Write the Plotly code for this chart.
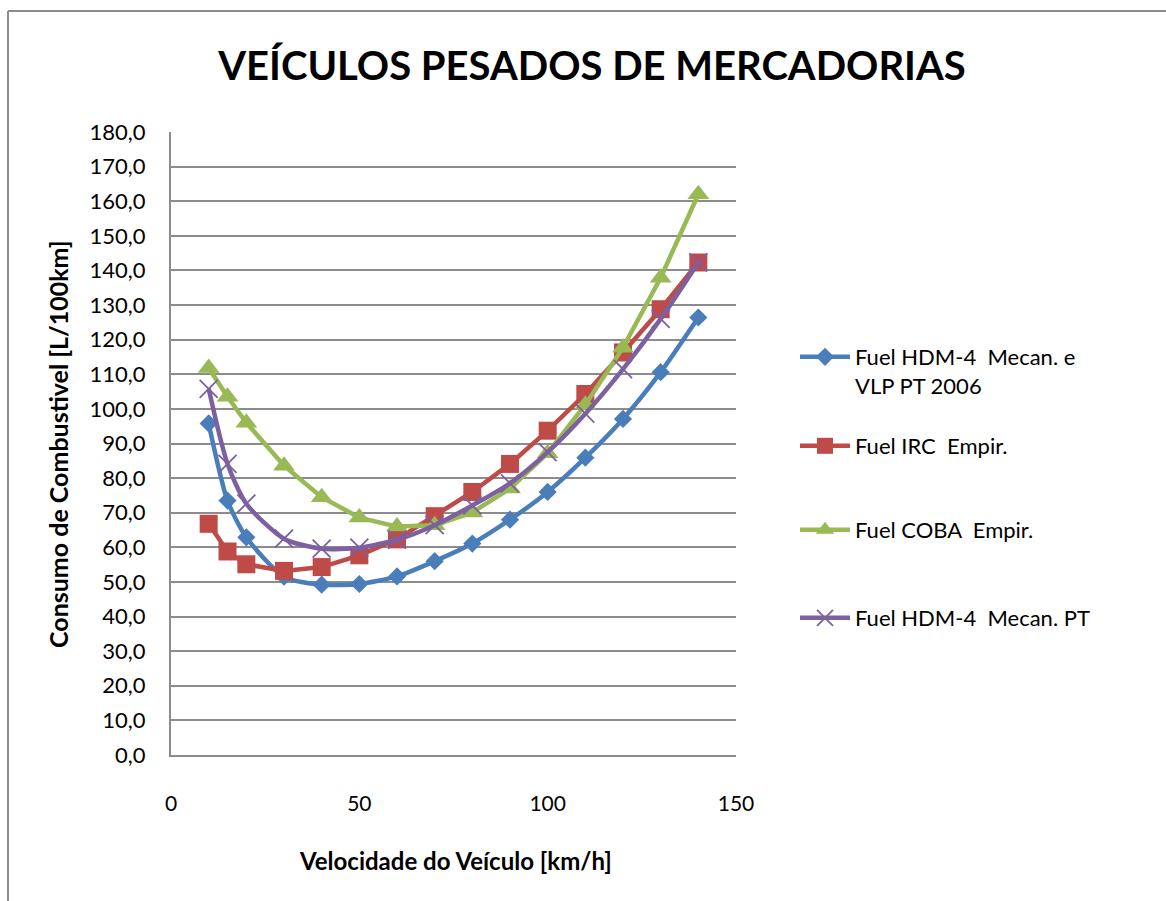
import plotly.graph_objects as go

# Vehicle speed (km/h)
speed = [10, 15, 20, 30, 40, 50, 60, 70, 80, 90, 100, 110, 120, 130, 140]

# Fuel consumption (L/100km) per model
hdm4_vlp = [95.8, 73.5, 62.9, 51.5, 49.2, 49.4, 51.6, 56.0, 61.1, 68.0, 76.0, 85.9, 97.1, 110.6, 126.4]
irc_empir = [66.8, 58.8, 55.1, 53.2, 54.3, 57.7, 62.3, 69.0, 76.0, 84.1, 93.7, 104.3, 116.3, 128.8, 142.3]
coba_empir = [111.8, 103.5, 96.0, 83.6, 74.5, 68.6, 66.0, 66.4, 70.1, 77.0, 87.2, 101.2, 117.7, 137.9, 162.0]
hdm4_pt = [105.8, 84.1, 72.6, 62.5, 59.6, 59.9, 62.2, 66.4, 72.1, 78.5, 87.5, 98.6, 111.5, 126.0, 142.3]

series_names = [
    "Fuel HDM-4  Mecan. e<br>VLP PT 2006",
    "Fuel IRC  Empir.",
    "Fuel COBA  Empir.",
    "Fuel HDM-4  Mecan. PT",
]

y_ticks = list(range(0, 181, 10))
x_ticks = [0, 50, 100, 150]

FONT = "Lato"
GRID = "#8c8c8c"

W, H = 1166, 901
L, R, T, B = 171, 430, 132, 146
PW, PH = W - L - R, H - T - B


def px_x(p):
    return (p - L) / PW


def px_y(p):
    return (H - B - p) / PH


fig = go.Figure()

fig.add_trace(go.Scatter(
    x=speed, y=hdm4_vlp, name=series_names[0], mode="lines+markers",
    line=dict(color="#4A7EBB", width=4.5, shape="spline", smoothing=0.7),
    marker=dict(symbol="diamond", size=14, color="#4A7EBB"),
    legend="legend",
))
fig.add_trace(go.Scatter(
    x=speed, y=irc_empir, name=series_names[1], mode="lines+markers",
    line=dict(color="#BE4B48", width=4.5),
    marker=dict(symbol="square", size=18, color="#BE4B48"),
    legend="legend2",
))
fig.add_trace(go.Scatter(
    x=speed, y=coba_empir, name=series_names[2], mode="lines+markers",
    line=dict(color="#98B954", width=4.5),
    marker=dict(symbol="triangle-up", size=19, color="#98B954"),
    legend="legend3",
))
fig.add_trace(go.Scatter(
    x=speed, y=hdm4_pt, name=series_names[3], mode="lines+markers",
    line=dict(color="#7D60A0", width=4.5, shape="spline", smoothing=0.7),
    marker=dict(symbol="x-thin-open", size=18, color="#7D60A0",
                line=dict(width=1.8, color="#7D60A0")),
    legend="legend4",
))


def legend_box(y_px):
    return dict(
        x=px_x(795), y=px_y(y_px), xanchor="left", yanchor="top",
        font=dict(family=FONT, size=22, color="#000000"),
        bgcolor="rgba(0,0,0,0)", itemwidth=50, valign="top",
    )


fig.update_layout(
    width=W, height=H,
    margin=dict(l=L, r=R, t=T, b=B),
    paper_bgcolor="white", plot_bgcolor="white",
    separators=", ",
    showlegend=True,
    legend=legend_box(336),
    legend2=legend_box(425),
    legend3=legend_box(509),
    legend4=legend_box(597),
    title=dict(
        text="<b>VEÍCULOS PESADOS DE MERCADORIAS</b>",
        font=dict(family=FONT, size=40, color="#000000"),
        x=592 / W, xanchor="center", xref="container",
        y=1 - 66 / H, yanchor="middle", yref="container",
    ),
    xaxis=dict(
        range=[0, 150], tickvals=x_ticks, showgrid=False, zeroline=False,
        showline=True, linecolor=GRID, linewidth=2,
        ticks="", ticklabelstandoff=29,
        tickfont=dict(family=FONT, size=21, color="#000000"),
    ),
    yaxis=dict(
        range=[0, 180], tickvals=y_ticks, tickformat=".1f",
        showgrid=True, gridcolor=GRID, gridwidth=1.6, zeroline=False,
        showline=True, linecolor=GRID, linewidth=2,
        ticks="", ticklabelstandoff=19,
        tickfont=dict(family=FONT, size=22, color="#000000"),
    ),
    annotations=[
        dict(text="<b>Velocidade do Veículo [km/h]</b>", xref="paper", yref="paper",
             x=px_x(455), y=px_y(860), xanchor="center", yanchor="middle",
             showarrow=False, font=dict(family=FONT, size=24, color="#000000")),
        dict(text="<b>Consumo de Combustivel [L/100km]</b>", xref="paper", yref="paper",
             x=px_x(58), y=px_y(444), xanchor="center", yanchor="middle", textangle=-90,
             showarrow=False, font=dict(family=FONT, size=25, color="#000000")),
    ],
    shapes=[
        dict(type="line", xref="paper", yref="paper", x0=px_x(8), x1=px_x(8),
             y0=px_y(11), y1=px_y(910), line=dict(color="#8c8c8c", width=2)),
        dict(type="line", xref="paper", yref="paper", x0=px_x(8), x1=px_x(1180),
             y0=px_y(11), y1=px_y(11), line=dict(color="#8c8c8c", width=2)),
    ],
)

fig.write_html("out.html")
